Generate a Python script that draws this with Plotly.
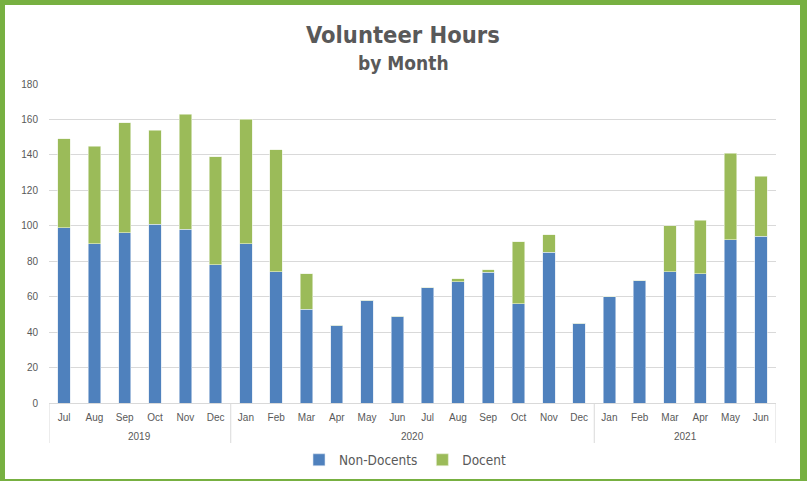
import plotly.graph_objects as go

years = ["2019"] * 6 + ["2020"] * 12 + ["2021"] * 6
months = ["Jul", "Aug", "Sep", "Oct", "Nov", "Dec",
          "Jan", "Feb", "Mar", "Apr", "May", "Jun", "Jul", "Aug", "Sep", "Oct", "Nov", "Dec",
          "Jan", "Feb", "Mar", "Apr", "May", "Jun"]
non_docents = [99, 90, 96, 101, 98, 78,
               90, 74, 53, 44, 58, 49, 65, 68.5, 73.8, 56, 85, 45,
               60, 69, 74, 73, 92, 94]
docent = [50, 55, 62, 53, 65, 61,
          70, 69, 20, 0, 0, 0, 0, 1.5, 1.3, 35, 10, 0,
          0, 0, 26, 30, 49, 34]
y_ticks = [0, 20, 40, 60, 80, 100, 120, 140, 160, 180]

W, H = 807, 481
ML, MR, MT, MB = 49, 31, 84, 78
PW, PH = W - ML - MR, H - MT - MB

def px_x(p):
    return (p - ML) / PW

def px_y(p):
    return (H - MB - p) / PH

BLUE = "#4F81BD"
GREEN = "#9BBB59"
GRAY = "#595959"
GRID = "#D9D9D9"
BORDER = "#77B041"
NARROW = "DejaVu Sans Condensed, sans-serif"

idx = list(range(len(months)))

fig = go.Figure()
fig.add_trace(go.Bar(name="Non-Docents", x=idx, y=non_docents,
                     marker=dict(color=BLUE, line=dict(color="#DCE6F2", width=0.6))))
fig.add_trace(go.Bar(name="Docent", x=idx, y=docent,
                     marker=dict(color=GREEN, line=dict(color="#EBF1DE", width=0.6))))

# year groups: boundaries and centers derived from the years list
groups = []
start = 0
for i in range(1, len(years) + 1):
    if i == len(years) or years[i] != years[start]:
        groups.append((years[start], start, i - 1))
        start = i

shapes = []
bounds = sorted({g[1] - 0.5 for g in groups} | {g[2] + 0.5 for g in groups})
for b in bounds:
    shapes.append(dict(type="line", xref="x", yref="paper", x0=b, x1=b, y0=0, y1=px_y(443),
                       line=dict(color=GRID, width=1)))
# green frame (left, right, top, bottom edges)
for (x0, x1, y0, y1) in [(0, 5, 0, H), (800, W, 0, H), (0, W, 0, 5), (0, W, 479, H)]:
    shapes.append(dict(type="rect", xref="paper", yref="paper",
                       x0=px_x(x0), x1=px_x(x1), y0=px_y(y1), y1=px_y(y0),
                       line=dict(width=0), fillcolor=BORDER, layer="above"))

annotations = [
    dict(text="<b>Volunteer Hours</b>", xref="paper", yref="paper", x=px_x(403), y=px_y(35),
         xanchor="center", yanchor="middle", showarrow=False,
         font=dict(family=NARROW, size=23.5, color=GRAY)),
    dict(text="<b>by Month</b>", xref="paper", yref="paper", x=px_x(403), y=px_y(63),
         xanchor="center", yanchor="middle", showarrow=False,
         font=dict(family=NARROW, size=19, color=GRAY)),
]
for name, a, b in groups:
    annotations.append(dict(text=name, xref="x", yref="paper", x=(a + b) / 2, y=px_y(437),
                            xanchor="center", yanchor="middle", showarrow=False,
                            font=dict(size=10, color=GRAY)))

fig.update_layout(
    width=W, height=H,
    margin=dict(l=ML, r=MR, t=MT, b=MB, autoexpand=False),
    barmode="stack", bargap=0.59,
    paper_bgcolor="white", plot_bgcolor="white",
    font=dict(family="Liberation Sans, Arial, sans-serif", color=GRAY, size=10),
    showlegend=True,
    legend=dict(orientation="h", x=px_x(405), xanchor="center", y=px_y(460), yanchor="middle",
                font=dict(family=NARROW, size=13.5, color=GRAY), bgcolor="rgba(0,0,0,0)",
                itemwidth=30, traceorder="normal"),
    xaxis=dict(range=[-0.5, len(months) - 0.5], tickmode="array", tickvals=idx, ticktext=months,
               showgrid=False, showline=True, linecolor=GRID, linewidth=1, zeroline=False,
               ticks="outside", ticklen=5, tickcolor="rgba(0,0,0,0)",
               tickfont=dict(size=10, color=GRAY)),
    yaxis=dict(range=[0, 180], tickmode="array", tickvals=y_ticks, showgrid=True,
               gridcolor=GRID, gridwidth=1,
               zeroline=False, showline=False, ticks="outside", ticklen=8,
               tickcolor="rgba(0,0,0,0)", tickfont=dict(size=10, color=GRAY)),
    shapes=shapes,
    annotations=annotations,
)

fig.write_html("out.html", config={"displayModeBar": False},
               post_script="document.body.style.margin='0';")
